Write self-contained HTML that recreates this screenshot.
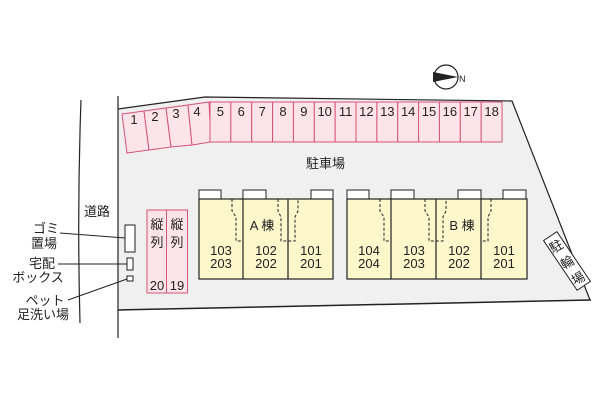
<!DOCTYPE html>
<html><head><meta charset="utf-8"><style>
html,body{margin:0;padding:0;background:#fff;}
svg{display:block;}
text{font-family:"Liberation Sans","Noto Sans CJK JP",sans-serif;fill:#222;}
</style></head><body>
<svg width="600" height="400" viewBox="0 0 600 400" xmlns="http://www.w3.org/2000/svg">
<polygon points="118,109 205,97 512,101 590,300 118,310" fill="#f0f0f0"/>
<polyline points="118,109 205,97 512,101 590,300" fill="none" stroke="#222" stroke-width="1.2"/>
<line x1="118" y1="310" x2="591" y2="300" stroke="#222" stroke-width="1.5"/>
<line x1="118" y1="96" x2="118" y2="338" stroke="#222" stroke-width="1.2"/>
<path d="M81,100 Q77,210 80,323" fill="none" stroke="#222" stroke-width="1.2"/>
<text x="84" y="216" font-size="13">道路</text>
<g fill="#fde4ea" stroke="#d45478" stroke-width="1">
<polygon points="122,114 144,111 149,150 127,153"/>
<polygon points="144,111 166,108 171,147 149,150"/>
<polygon points="166,108 188,105 192,145 171,147"/>
<polygon points="188,105 209,102 211,142 192,145"/>
</g>
<g font-size="13" text-anchor="middle">
<text x="134" y="124">1</text><text x="155" y="121">2</text><text x="176" y="118">3</text><text x="197" y="116">4</text>
</g>
<g fill="#fde4ea" stroke="#d45478" stroke-width="1">
<rect x="210" y="102" width="20.86" height="40"/><rect x="230.86" y="102" width="20.86" height="40"/>
<rect x="251.72" y="102" width="20.86" height="40"/><rect x="272.58" y="102" width="20.86" height="40"/>
<rect x="293.44" y="102" width="20.86" height="40"/><rect x="314.3" y="102" width="20.86" height="40"/>
<rect x="335.16" y="102" width="20.86" height="40"/><rect x="356.02" y="102" width="20.86" height="40"/>
<rect x="376.88" y="102" width="20.86" height="40"/><rect x="397.74" y="102" width="20.86" height="40"/>
<rect x="418.6" y="102" width="20.86" height="40"/><rect x="439.46" y="102" width="20.86" height="40"/>
<rect x="460.32" y="102" width="20.86" height="40"/><rect x="481.18" y="102" width="20.86" height="40"/>
</g>
<g font-size="13" text-anchor="middle">
<text x="220.4" y="116">5</text><text x="241.3" y="116">6</text><text x="262.2" y="116">7</text><text x="283" y="116">8</text>
<text x="303.9" y="116">9</text><text x="324.7" y="116">10</text><text x="345.6" y="116">11</text><text x="366.4" y="116">12</text>
<text x="387.3" y="116">13</text><text x="408.2" y="116">14</text><text x="429" y="116">15</text><text x="449.9" y="116">16</text>
<text x="470.7" y="116">17</text><text x="491.6" y="116">18</text>
</g>
<text x="306" y="168" font-size="13">駐車場</text>
<circle cx="446" cy="77" r="12" fill="#fff" stroke="#222" stroke-width="1.2"/>
<polygon points="433,72 458,77 433,82" fill="#222"/>
<text x="459" y="82" font-size="9">N</text>
<g fill="#fde4ea" stroke="#d45478" stroke-width="1">
<rect x="147" y="210" width="19.5" height="83"/><rect x="166.5" y="210" width="21" height="83"/>
</g>
<g font-size="13" text-anchor="middle">
<text x="157" y="229">縦</text><text x="157" y="247">列</text>
<text x="177" y="229">縦</text><text x="177" y="247">列</text>
<text x="157" y="290">20</text><text x="177" y="290">19</text>
</g>
<g fill="#fff" stroke="#222" stroke-width="1">
<rect x="199" y="190" width="22" height="9"/><rect x="243" y="190" width="23" height="9"/><rect x="311" y="190" width="22" height="9"/>
<rect x="347" y="190" width="22" height="9"/><rect x="391" y="190" width="23" height="9"/><rect x="458" y="190" width="23" height="9"/><rect x="503" y="190" width="23" height="9"/>
</g>
<g fill="#fcf8cc" stroke="#222" stroke-width="1.2">
<rect x="199" y="199" width="134" height="80"/>
<rect x="347" y="199" width="180" height="80"/>
</g>
<g stroke="#222" stroke-width="1.2">
<line x1="243" y1="199" x2="243" y2="279"/><line x1="288" y1="199" x2="288" y2="279"/>
<line x1="391" y1="199" x2="391" y2="279"/><line x1="436" y1="199" x2="436" y2="279"/><line x1="481" y1="199" x2="481" y2="279"/>
</g>
<g fill="none" stroke="#222" stroke-width="1" stroke-dasharray="3,2">
<polyline points="232,199 232,211 236,217 236,241 243,241"/>
<polyline points="278,199 278,211 281,217 281,241 295,241 295,217 298,211 298,199"/>
<polyline points="380,199 380,211 384,217 384,241 391,241"/>
<polyline points="425,199 425,211 429,217 429,241 443,241 443,217 446,211 446,199"/>
<polyline points="491,199 491,211 488,217 488,241 481,241"/>
</g>
<g font-size="13" text-anchor="middle">
<text x="262" y="230">A 棟</text>
<text x="221" y="255">103</text><text x="221" y="268">203</text>
<text x="266" y="255">102</text><text x="266" y="268">202</text>
<text x="311" y="255">101</text><text x="311" y="268">201</text>
<text x="462" y="230">B 棟</text>
<text x="369" y="255">104</text><text x="369" y="268">204</text>
<text x="414" y="255">103</text><text x="414" y="268">203</text>
<text x="459" y="255">102</text><text x="459" y="268">202</text>
<text x="504" y="255">101</text><text x="504" y="268">201</text>
</g>
<g transform="translate(567,261) rotate(56)">
<rect x="-30" y="-8" width="60" height="16" fill="#fff" stroke="#222" stroke-width="1"/>
</g>
<g font-size="13" text-anchor="middle">
<text x="556" y="251" transform="rotate(-30 556 246)">駐</text>
<text x="567" y="267" transform="rotate(-30 567 262)">輪</text>
<text x="578" y="283" transform="rotate(-30 578 278)">場</text>
</g>
<g fill="#fff" stroke="#222" stroke-width="1">
<rect x="125" y="225" width="10" height="27"/>
<rect x="127" y="258" width="6" height="12"/>
<rect x="127" y="276" width="6" height="5"/>
</g>
<g stroke="#222" stroke-width="1">
<line x1="60" y1="233" x2="125" y2="238"/>
<line x1="58" y1="264" x2="127" y2="264"/>
<line x1="68" y1="300" x2="127" y2="279"/>
</g>
<g font-size="13" text-anchor="middle">
<text x="46" y="233">ゴミ</text><text x="44" y="248">置場</text>
<text x="42" y="268">宅配</text><text x="38" y="282">ボックス</text>
<text x="45" y="305">ペット</text><text x="43" y="319">足洗い場</text>
</g>
</svg>
</body></html>
